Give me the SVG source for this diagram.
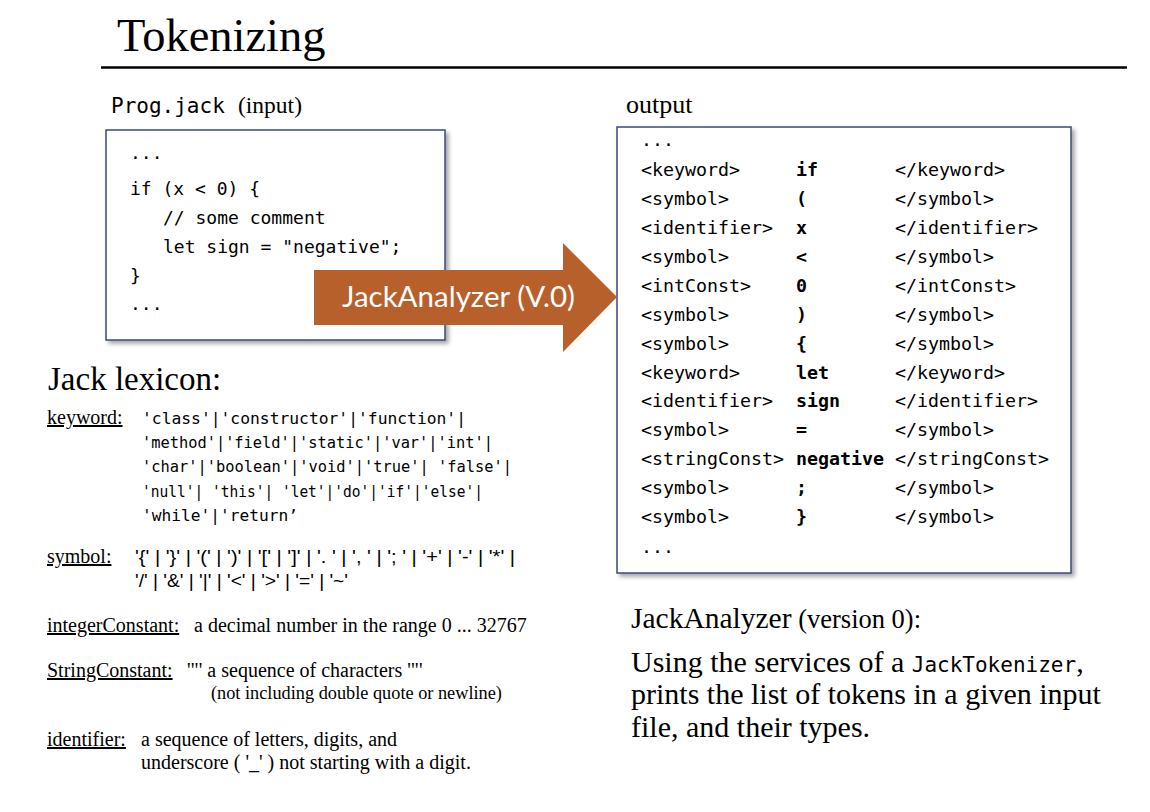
<svg xmlns="http://www.w3.org/2000/svg" width="1150" height="812" viewBox="0 0 1150 812">
<defs>
<filter id="sh" x="-5%" y="-5%" width="115%" height="115%">
<feDropShadow dx="3" dy="3" stdDeviation="2" flood-color="#000" flood-opacity="0.35"/>
</filter>
</defs>
<style>
.serif{font-family:"Liberation Serif","Times New Roman",serif;fill:#000}
.mono{font-family:"DejaVu Sans Mono","Liberation Mono",monospace;fill:#000}
.box{fill:#fff;stroke:#3d4a7a;stroke-width:1.5}
.ul{text-decoration:underline}
.b{font-weight:bold}
.lex{font-size:20px}
.kw{font-family:"DejaVu Sans Mono","Liberation Mono",monospace;font-size:16px}
.sym{font-family:"Liberation Sans","Arial",sans-serif;font-size:18px}
.out{font-size:18.3px}
</style>
<rect width="1150" height="812" fill="#fff"/>
<g id="title">
<text class="serif" x="117" y="51" font-size="46.5">Tokenizing</text>
<line x1="101" y1="67.5" x2="1127" y2="67.5" stroke="#000" stroke-width="2.5"/>
</g>
<g id="input">
<text x="111" y="113"><tspan class="mono" font-size="21">Prog.jack</tspan><tspan class="serif" font-size="23.5" x="238">(input)</tspan></text>
<rect class="box" x="106" y="130" width="339" height="210" filter="url(#sh)"/>
<g class="mono" font-size="18">
<text x="130" y="159">...</text>
<text x="130" y="195">if (x &lt; 0) {</text>
<text x="163" y="224">// some comment</text>
<text x="163" y="253">let sign = "negative";</text>
<text x="130" y="282">}</text>
<text x="130" y="310">...</text>
</g>
</g>
<g id="output">
<text class="serif" x="626" y="113" font-size="26">output</text>
<rect class="box" x="617" y="127" width="454" height="446" filter="url(#sh)"/>
<g class="mono out">
<text x="641" y="146">...</text>
<text y="176"><tspan x="641">&lt;keyword&gt;</tspan><tspan x="796" class="b">if</tspan><tspan x="895">&lt;/keyword&gt;</tspan></text>
<text y="205"><tspan x="641">&lt;symbol&gt;</tspan><tspan x="796" class="b">(</tspan><tspan x="895">&lt;/symbol&gt;</tspan></text>
<text y="234"><tspan x="641">&lt;identifier&gt;</tspan><tspan x="796" class="b">x</tspan><tspan x="895">&lt;/identifier&gt;</tspan></text>
<text y="263"><tspan x="641">&lt;symbol&gt;</tspan><tspan x="796" class="b">&lt;</tspan><tspan x="895">&lt;/symbol&gt;</tspan></text>
<text y="292"><tspan x="641">&lt;intConst&gt;</tspan><tspan x="796" class="b">0</tspan><tspan x="895">&lt;/intConst&gt;</tspan></text>
<text y="321"><tspan x="641">&lt;symbol&gt;</tspan><tspan x="796" class="b">)</tspan><tspan x="895">&lt;/symbol&gt;</tspan></text>
<text y="350"><tspan x="641">&lt;symbol&gt;</tspan><tspan x="796" class="b">{</tspan><tspan x="895">&lt;/symbol&gt;</tspan></text>
<text y="379"><tspan x="641">&lt;keyword&gt;</tspan><tspan x="796" class="b">let</tspan><tspan x="895">&lt;/keyword&gt;</tspan></text>
<text y="407"><tspan x="641">&lt;identifier&gt;</tspan><tspan x="796" class="b">sign</tspan><tspan x="895">&lt;/identifier&gt;</tspan></text>
<text y="436"><tspan x="641">&lt;symbol&gt;</tspan><tspan x="796" class="b">=</tspan><tspan x="895">&lt;/symbol&gt;</tspan></text>
<text y="465"><tspan x="641">&lt;stringConst&gt;</tspan><tspan x="796" class="b">negative</tspan><tspan x="895">&lt;/stringConst&gt;</tspan></text>
<text y="494"><tspan x="641">&lt;symbol&gt;</tspan><tspan x="796" class="b">;</tspan><tspan x="895">&lt;/symbol&gt;</tspan></text>
<text y="523"><tspan x="641">&lt;symbol&gt;</tspan><tspan x="796" class="b">}</tspan><tspan x="895">&lt;/symbol&gt;</tspan></text>
<text x="641" y="553">...</text>
</g>
</g>
<g id="connectors">
<g id="arrow">
<polygon points="314,270 563,270 563,243 617,297 563,352 563,325 314,325" fill="#b8602b"/>
<text x="342" y="307" font-family="Lato,'Open Sans',sans-serif" font-size="28" fill="#fff" textLength="233" lengthAdjust="spacingAndGlyphs">JackAnalyzer (V.0)</text>
</g>
</g>
<g id="lexicon">
<text class="serif" x="48" y="390" font-size="33">Jack lexicon:</text>
<text class="serif lex ul" x="47" y="424">keyword:</text>
<text class="kw" x="142" y="424" textLength="324" lengthAdjust="spacingAndGlyphs">'class'|'constructor'|'function'|</text>
<text class="kw" x="142" y="448" textLength="351" lengthAdjust="spacingAndGlyphs">'method'|'field'|'static'|'var'|'int'|</text>
<text class="kw" x="142" y="472" textLength="370" lengthAdjust="spacingAndGlyphs">'char'|'boolean'|'void'|'true'| 'false'|</text>
<text class="kw" x="142" y="497" textLength="341" lengthAdjust="spacingAndGlyphs">'null'| 'this'| 'let'|'do'|'if'|'else'|</text>
<text class="kw" x="142" y="521" textLength="156" lengthAdjust="spacingAndGlyphs">'while'|'return’</text>
<text class="serif lex ul" x="47" y="563">symbol:</text>
<text class="sym" x="135" y="563" textLength="380" lengthAdjust="spacingAndGlyphs">'{' | '}' | '(' | ')' | '[' | ']' | '. ' | ', ' | '; ' | '+' | '-' | '*' |</text>
<text class="sym" x="135" y="587" textLength="213" lengthAdjust="spacingAndGlyphs">'/' | '&amp;' | '|' | '&lt;' | '&gt;' | '=' | '~'</text>
<text class="serif lex" x="47" y="632"><tspan class="ul">integerConstant:</tspan><tspan x="194">a decimal number in the range 0 ... 32767</tspan></text>
<text class="serif lex" x="47" y="677"><tspan class="ul">StringConstant:</tspan><tspan x="187">'"' a sequence of characters '"'</tspan></text>
<text class="serif" x="211" y="699" font-size="18.3">(not including double quote or newline)</text>
<text class="serif lex" x="47" y="746"><tspan class="ul">identifier:</tspan><tspan x="141">a sequence of letters, digits, and</tspan></text>
<text class="serif lex" x="141" y="769">underscore ( '_' ) not starting with a digit.</text>
</g>
<g id="description">
<text class="serif" x="631" y="628"><tspan font-size="29.5">JackAnalyzer</tspan><tspan font-size="26.5"> (version 0):</tspan></text>
<text class="serif" x="631" y="672" font-size="30">Using the services of a <tspan class="mono" font-size="21">JackTokenizer</tspan>,</text>
<text class="serif" x="631" y="704" font-size="30">prints the list of tokens in a given input</text>
<text class="serif" x="631" y="737" font-size="30">file, and their types.</text>
</g>
</svg>
